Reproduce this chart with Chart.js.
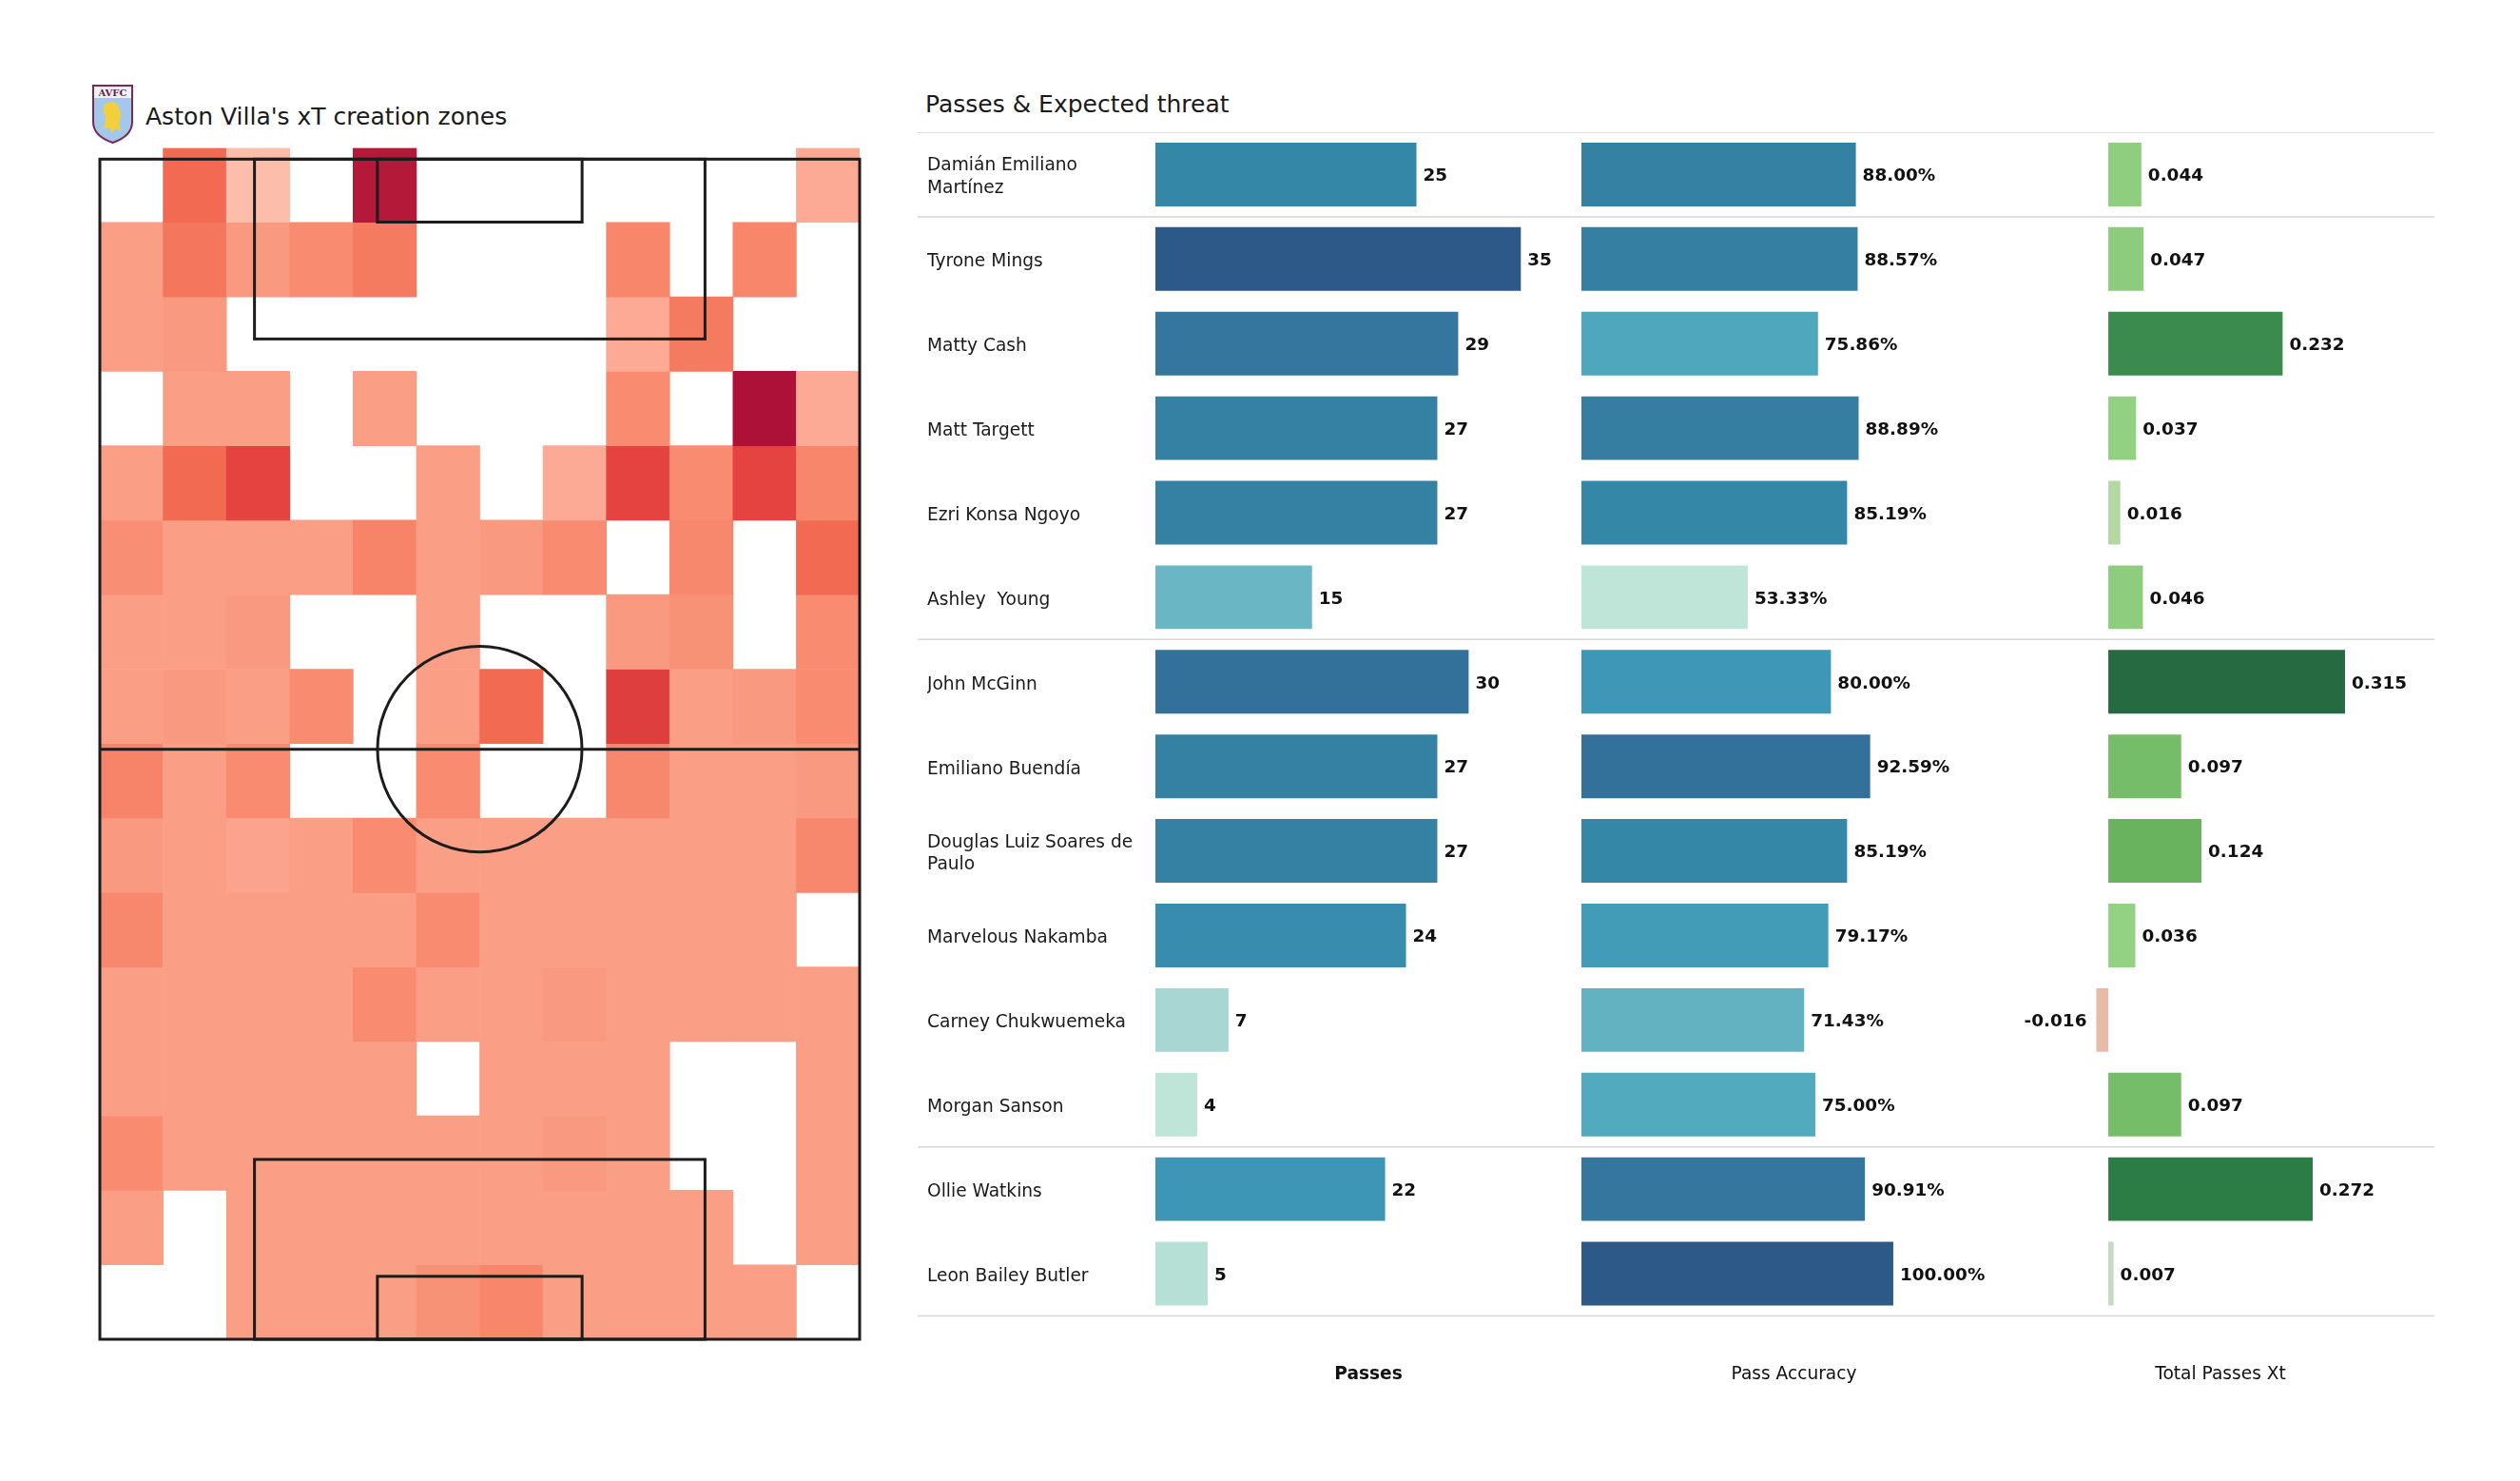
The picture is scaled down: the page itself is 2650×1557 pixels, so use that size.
<!DOCTYPE html>
<html>
<head>
<meta charset="utf-8">
<title>Aston Villa - passes & xT</title>
<script src="https://cdn.jsdelivr.net/npm/chart.js@4.4.1/dist/chart.umd.min.js"></script>
<style>
  html, body { margin: 0; padding: 0; background: #fff; }
  body { width: 2650px; height: 1557px; position: relative; overflow: hidden;
         font-family: 'DejaVu Sans', sans-serif; color: #1a1a1a; }
  .box { position: absolute; }
  .title { position: absolute; font-size: 25px; line-height: 30px; white-space: pre; }
</style>
</head>
<body>

<svg class="box" style="left:96px;top:88px" width="45" height="64" viewBox="0 0 45 64">
  <path d="M2 2 H43 V40 Q43 55 22.5 62 Q2 55 2 40 Z" fill="#a4c8ec" stroke="#7a2a55" stroke-width="2"/>
  <rect x="3" y="3" width="39" height="12" fill="#eef2f8"/>
  <text x="22.5" y="13" text-anchor="middle" font-family="DejaVu Serif" font-size="10" font-weight="bold" fill="#6b1d45">AVFC</text>
  <path d="M14 22 Q20 17 27 21 L30 28 Q33 34 29 40 L31 50 L25 47 L22 52 L18 46 L13 48 Q15 40 15 34 Q11 30 14 22 Z" fill="#f2d03b"/>
</svg>
<div class="title" style="left:153px;top:108px">Aston Villa's xT creation zones</div>
<div class="title" style="left:973px;top:95px">Passes &amp; Expected threat</div>

<div class="box" style="left:95px;top:145px;width:820px;height:1275px"><canvas id="pitch"></canvas></div>
<div class="box" style="left:965px;top:139px;width:698px;height:1317px"><canvas id="passes"></canvas></div>
<div class="box" style="left:1663px;top:139px;width:447px;height:1317px"><canvas id="accuracy"></canvas></div>
<div class="box" style="left:2110px;top:139px;width:450px;height:1317px"><canvas id="xt"></canvas></div>

<script>
const FONT = "'DejaVu Sans', sans-serif";

// xT creation zones: 16 rows (top row = attacking end) x 12 columns,
// relative intensity (0 = no pass from that zone)
const xtGrid = [
  [0, 62, 15, 0, 97, 0, 0, 0, 0, 0, 0, 22],
  [30, 55, 33, 42, 52, 0, 0, 0, 45, 0, 45, 0],
  [30, 33, 0, 0, 0, 0, 0, 0, 22, 52, 0, 0],
  [0, 30, 30, 0, 30, 0, 0, 0, 42, 0, 100, 22],
  [30, 62, 80, 0, 0, 30, 0, 22, 80, 42, 80, 45],
  [40, 30, 30, 30, 47, 30, 33, 42, 0, 44, 0, 62],
  [30, 30, 33, 0, 0, 30, 0, 0, 33, 38, 0, 42],
  [30, 33, 30, 42, 0, 30, 62, 0, 82, 30, 33, 42],
  [47, 30, 42, 0, 0, 42, 0, 0, 44, 30, 30, 33],
  [33, 30, 27, 30, 42, 30, 30, 30, 30, 30, 30, 44],
  [44, 30, 30, 30, 30, 42, 30, 30, 30, 30, 30, 0],
  [30, 30, 30, 30, 42, 30, 30, 33, 30, 30, 30, 30],
  [30, 30, 30, 30, 30, 0, 30, 30, 30, 0, 0, 30],
  [42, 30, 30, 30, 30, 30, 30, 33, 30, 0, 0, 30],
  [30, 0, 30, 30, 30, 30, 30, 30, 30, 30, 0, 30],
  [0, 0, 30, 30, 30, 38, 45, 30, 30, 30, 30, 0]
];

const players = [
  ['Damián Emiliano', 'Martínez'], 'Tyrone Mings', 'Matty Cash', 'Matt Targett',
  'Ezri Konsa Ngoyo', 'Ashley  Young', 'John McGinn', 'Emiliano Buendía',
  ['Douglas Luiz Soares de', 'Paulo'], 'Marvelous Nakamba', 'Carney Chukwuemeka',
  'Morgan Sanson', 'Ollie Watkins', 'Leon Bailey Butler'
];
const passes = [25, 35, 29, 27, 27, 15, 30, 27, 27, 24, 7, 4, 22, 5];
const passAccuracy = [88.00, 88.57, 75.86, 88.89, 85.19, 53.33, 80.00, 92.59, 85.19, 79.17, 71.43, 75.00, 90.91, 100.00];
const passesXt = [0.044, 0.047, 0.232, 0.037, 0.016, 0.046, 0.315, 0.097, 0.124, 0.036, -0.016, 0.097, 0.272, 0.007];
// last row of each position group (GK, defenders, midfielders)
const groupEnds = [0, 5, 11];

// pitch dimensions (metres)
const pitchLength = 105, pitchWidth = 68, gridTop = 106;

function hexToRgb(h) {
  const n = parseInt(h.slice(1), 16);
  return [n >> 16, (n >> 8) & 255, n & 255];
}
function ramp(stops) {
  return (v) => {
    if (v <= stops[0][0]) return stops[0][1];
    for (let i = 1; i < stops.length; i++) {
      if (v <= stops[i][0]) {
        const [v0, c0] = stops[i - 1], [v1, c1] = stops[i];
        const t = (v - v0) / (v1 - v0);
        const a = hexToRgb(c0), b = hexToRgb(c1);
        return `rgb(${a.map((x, k) => Math.round(x + (b[k] - x) * t)).join(',')})`;
      }
    }
    return stops[stops.length - 1][1];
  };
}

const heatColor = ramp([
  [15, '#fcbdab'], [22, '#fcaa95'], [30, '#fa9f86'], [33, '#f99a80'], [42, '#f88b70'],
  [52, '#f57b60'], [62, '#f26a52'], [80, '#e5433f'], [100, '#ad1138']
]);
const blueColor = ramp([
  [0, '#bee5d8'], [0.1, '#a6d6d3'], [0.36, '#69b5c4'], [0.47, '#50a9bd'], [0.58, '#3d96b5'],
  [0.68, '#3587a8'], [0.75, '#3580a2'], [0.84, '#33709a'], [1, '#2c5987']
]);
const greenColor = ramp([
  [-0.016, '#e8bba9'], [0, '#d5d5d0'], [0.007, '#c6d9c1'], [0.016, '#b3d8a4'], [0.036, '#94d283'],
  [0.047, '#8dcc7c'], [0.097, '#76bd69'], [0.124, '#6ab35e'], [0.232, '#3c8b4e'],
  [0.272, '#2c7d45'], [0.315, '#256a40']
]);
const normColors = (vals) => {
  const lo = Math.min(...vals), hi = Math.max(...vals);
  return vals.map(v => blueColor((v - lo) / (hi - lo)));
};

// ---------- pitch heatmap ----------
const colW = pitchWidth / 12, rowH = gridTop / 16;
const heatDatasets = xtGrid.map((row, r) => ({
  data: row.map((v, c) => ({ x: (c + 0.5) * colW, y: [gridTop - (r + 1) * rowH, gridTop - r * rowH] })),
  backgroundColor: row.map(v => v > 0 ? heatColor(v) : 'rgba(255,255,255,0)'),
  borderWidth: 0,
  grouped: false,
  barPercentage: 1,
  categoryPercentage: 1
}));

const pitchLines = {
  id: 'pitchLines',
  afterDatasetsDraw(chart) {
    const { ctx, scales: { x, y } } = chart;
    const px = v => x.getPixelForValue(v), py = v => y.getPixelForValue(v);
    const box = (x0, y0, x1, y1) => ctx.strokeRect(px(x0), py(y1), px(x1) - px(x0), py(y0) - py(y1));
    ctx.save();
    ctx.strokeStyle = '#1c1c1c';
    ctx.lineWidth = 3;
    box(0, 0, pitchWidth, pitchLength);
    // halfway line + centre circle
    ctx.beginPath();
    ctx.moveTo(px(0), py(pitchLength / 2));
    ctx.lineTo(px(pitchWidth), py(pitchLength / 2));
    ctx.stroke();
    ctx.beginPath();
    ctx.ellipse(px(pitchWidth / 2), py(pitchLength / 2),
      px(9.15) - px(0), py(0) - py(9.15), 0, 0, Math.PI * 2);
    ctx.stroke();
    // penalty areas and six-yard boxes
    const mid = pitchWidth / 2;
    box(mid - 20.16, 0, mid + 20.16, 16);
    box(mid - 9.16, 0, mid + 9.16, 5.6);
    box(mid - 20.16, pitchLength - 16, mid + 20.16, pitchLength);
    box(mid - 9.16, pitchLength - 5.6, mid + 9.16, pitchLength);
    ctx.restore();
  }
};

new Chart(document.getElementById('pitch'), {
  type: 'bar',
  data: { datasets: heatDatasets },
  options: {
    responsive: true,
    maintainAspectRatio: false,
    animation: false,
    layout: { padding: { left: 10, right: 11, top: 10.5, bottom: 12 } },
    plugins: { legend: { display: false }, tooltip: { enabled: false } },
    scales: {
      x: { type: 'linear', min: 0, max: pitchWidth, offset: false, display: false, ticks: { stepSize: pitchWidth / 2 } },
      y: { type: 'linear', min: 0, max: gridTop, display: false }
    }
  },
  plugins: [pitchLines]
});

// ---------- player table ----------
const rowLines = {
  id: 'rowLines',
  beforeDatasetsDraw(chart) {
    const { ctx, scales: { y } } = chart;
    const half = (y.getPixelForValue(1) - y.getPixelForValue(0)) / 2;
    const n = players.length;
    const ys = [y.getPixelForValue(0) - half, y.getPixelForValue(n - 1) + half];
    groupEnds.forEach(i => ys.push(y.getPixelForValue(i) + half));
    ctx.save();
    ctx.strokeStyle = '#d6d6d6';
    ctx.lineWidth = 1.5;
    ys.forEach(v => {
      ctx.beginPath();
      ctx.moveTo(0, v);
      ctx.lineTo(chart.width, v);
      ctx.stroke();
    });
    ctx.restore();
  }
};

function valueLabels(fmt) {
  return {
    id: 'valueLabels',
    afterDatasetsDraw(chart) {
      const { ctx } = chart;
      const meta = chart.getDatasetMeta(0);
      const vals = chart.data.datasets[0].data;
      ctx.save();
      ctx.font = `bold 18.4px ${FONT}`;
      ctx.fillStyle = '#111';
      ctx.textBaseline = 'middle';
      meta.data.forEach((bar, i) => {
        const v = vals[i];
        if (v < 0) {
          ctx.textAlign = 'right';
          ctx.fillText(fmt(v), bar.x - 10, bar.y + 2);
        } else {
          ctx.textAlign = 'left';
          ctx.fillText(fmt(v), bar.x + 7, bar.y + 2);
        }
      });
      ctx.restore();
    }
  };
}

function tableChart(id, values, colors, opts) {
  return new Chart(document.getElementById(id), {
    type: 'bar',
    data: {
      labels: players,
      datasets: [{
        data: values,
        backgroundColor: colors,
        borderWidth: 0,
        barPercentage: 0.753,
        categoryPercentage: 1
      }]
    },
    options: {
      indexAxis: 'y',
      responsive: true,
      maintainAspectRatio: false,
      animation: false,
      layout: { padding: { left: opts.names ? 10 : 0 } },
      plugins: { legend: { display: false }, tooltip: { enabled: false } },
      scales: {
        x: {
          min: opts.min, max: opts.max,
          grid: { display: false, drawTicks: false },
          border: { display: false },
          ticks: { display: false },
          title: {
            display: true, text: opts.title, color: '#111',
            font: { family: FONT, size: 18.6, weight: opts.bold ? 'bold' : 'normal', lineHeight: 1.2 },
            padding: { top: 50.2, bottom: 0 }
          }
        },
        y: {
          display: !!opts.names,
          grid: { display: false, drawTicks: false },
          border: { display: false },
          ticks: {
            autoSkip: false, crossAlign: 'far', padding: 0, labelOffset: 3, color: '#1a1a1a',
            font: { family: FONT, size: 18.6, lineHeight: 1.27 }
          },
          afterFit(scale) {
            // name column has a fixed width; labels never need extra room above/below
            if (opts.names) scale.width = 240;
            scale.paddingTop = 0;
            scale.paddingBottom = 0;
          }
        }
      }
    },
    plugins: [rowLines, valueLabels(opts.fmt)]
  });
}

tableChart('passes', passes, normColors(passes), {
  names: true, min: 0, max: 40.8, title: 'Passes', bold: true, fmt: v => String(v)
});
tableChart('accuracy', passAccuracy, normColors(passAccuracy), {
  min: 0, max: 136.3, title: 'Pass Accuracy', fmt: v => v.toFixed(2) + '%'
});
tableChart('xt', passesXt, passesXt.map(greenColor), {
  min: -0.1355, max: 0.434, title: 'Total Passes Xt', fmt: v => v.toFixed(3)
});
</script>
</body>
</html>
